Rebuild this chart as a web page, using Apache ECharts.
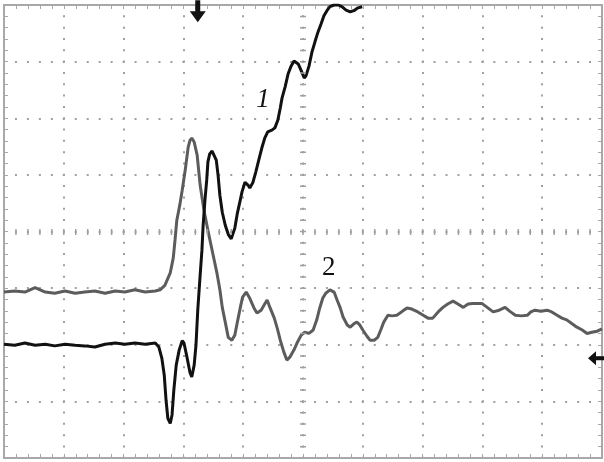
<!DOCTYPE html>
<html>
<head>
<meta charset="utf-8">
<style>
  html, body { margin: 0; padding: 0; background: #fff; }
  #main { width: 604px; height: 462px; }
</style>
<script src="https://cdn.jsdelivr.net/npm/echarts@6/dist/echarts.min.js"></script>
</head>
<body>
<div id="main"></div>
<script>
// screen is 10 x 8 divisions, values below are in divisions
var xTicks = [0, 1, 2, 3, 4, 5, 6, 7, 8, 9, 10];
var yTicks = [-4, -3, -2, -1, 0, 1, 2, 3, 4];

// trace 1 (black)
var trace1 = [
  [0.00,-1.99],[0.18,-2.01],[0.35,-1.97],[0.52,-2.01],[0.69,-1.99],[0.85,-2.02],[1.02,-1.99],[1.19,-2.01],
  [1.35,-2.02],[1.52,-2.04],[1.69,-1.99],[1.86,-1.97],[2.02,-1.99],[2.19,-1.97],[2.36,-1.99],[2.53,-1.97],
  [2.59,-2.04],[2.64,-2.24],[2.68,-2.54],[2.71,-2.98],[2.74,-3.30],[2.78,-3.39],[2.81,-3.24],[2.84,-2.80],
  [2.88,-2.36],[2.93,-2.09],[2.98,-1.93],[3.01,-1.97],[3.06,-2.22],[3.11,-2.49],[3.14,-2.57],[3.18,-2.36],
  [3.21,-2.01],[3.24,-1.39],[3.28,-0.77],[3.31,-0.33],[3.33,0.11],[3.36,0.55],[3.39,0.91],[3.41,1.23],
  [3.44,1.37],[3.48,1.42],[3.51,1.40],[3.55,1.26],[3.58,0.99],[3.61,0.64],[3.65,0.34],[3.70,0.11],
  [3.75,-0.05],[3.80,-0.13],[3.83,-0.12],[3.86,0.06],[3.90,0.31],[3.95,0.55],[3.98,0.70],[4.03,0.87],
  [4.08,0.82],[4.11,0.77],[4.16,0.86],[4.21,1.05],[4.26,1.26],[4.31,1.47],[4.36,1.65],[4.41,1.76],
  [4.48,1.79],[4.53,1.83],[4.58,1.97],[4.62,2.18],[4.65,2.36],[4.70,2.55],[4.75,2.78],[4.80,2.92],
  [4.85,3.01],[4.88,3.03],[4.92,2.96],[4.97,2.84],[5.02,2.71],[5.05,2.75],[5.10,2.92],[5.15,3.17],
  [5.20,3.35],[5.25,3.52],[5.30,3.66],[5.35,3.81],[5.40,3.90],[5.45,3.97],[5.52,4.00],[5.59,4.00],
  [5.65,3.97],[5.72,3.91],[5.79,3.88],[5.85,3.90],[5.92,3.95],[5.99,3.97]
];

// trace 2 (grey)
var trace2 = [
  [0.00,-1.07],[0.18,-1.05],[0.35,-1.07],[0.52,-0.99],[0.69,-1.07],[0.85,-1.09],[1.02,-1.05],[1.19,-1.09],
  [1.35,-1.07],[1.52,-1.05],[1.69,-1.09],[1.86,-1.05],[2.02,-1.07],[2.19,-1.03],[2.36,-1.07],[2.53,-1.05],
  [2.61,-1.03],[2.69,-0.95],[2.78,-0.73],[2.83,-0.47],[2.86,-0.15],[2.89,0.20],[2.94,0.47],[2.98,0.73],
  [3.03,1.08],[3.08,1.49],[3.11,1.61],[3.14,1.65],[3.18,1.58],[3.23,1.35],[3.28,0.82],[3.33,0.47],
  [3.36,0.29],[3.41,0.02],[3.48,-0.33],[3.56,-0.73],[3.61,-1.03],[3.65,-1.34],[3.70,-1.60],[3.75,-1.87],
  [3.81,-1.92],[3.86,-1.83],[3.91,-1.56],[3.96,-1.30],[3.99,-1.16],[4.05,-1.07],[4.11,-1.18],[4.18,-1.35],
  [4.23,-1.44],[4.30,-1.39],[4.35,-1.30],[4.40,-1.21],[4.45,-1.35],[4.52,-1.53],[4.57,-1.71],[4.62,-1.92],
  [4.68,-2.13],[4.73,-2.27],[4.78,-2.22],[4.85,-2.09],[4.90,-1.97],[4.97,-1.83],[5.03,-1.78],[5.10,-1.80],
  [5.17,-1.74],[5.23,-1.56],[5.28,-1.35],[5.33,-1.18],[5.38,-1.09],[5.45,-1.03],[5.52,-1.07],[5.57,-1.21],
  [5.62,-1.34],[5.67,-1.51],[5.74,-1.65],[5.79,-1.69],[5.85,-1.63],[5.90,-1.60],[5.95,-1.65],[6.00,-1.74],
  [6.07,-1.85],[6.12,-1.92],[6.19,-1.92],[6.25,-1.87],[6.30,-1.74],[6.35,-1.60],[6.42,-1.48],[6.49,-1.49],
  [6.57,-1.48],[6.66,-1.41],[6.74,-1.35],[6.82,-1.37],[6.92,-1.42],[7.01,-1.48],[7.09,-1.53],[7.17,-1.53],
  [7.26,-1.42],[7.34,-1.34],[7.42,-1.28],[7.51,-1.23],[7.59,-1.28],[7.68,-1.34],[7.76,-1.28],[7.84,-1.27],
  [7.93,-1.27],[7.99,-1.27],[8.08,-1.34],[8.18,-1.42],[8.28,-1.39],[8.38,-1.34],[8.46,-1.41],[8.55,-1.48],
  [8.65,-1.49],[8.75,-1.48],[8.81,-1.42],[8.88,-1.39],[8.98,-1.41],[9.08,-1.39],[9.16,-1.42],[9.25,-1.48],
  [9.33,-1.53],[9.41,-1.56],[9.50,-1.63],[9.58,-1.69],[9.67,-1.74],[9.75,-1.80],[9.83,-1.78],[9.92,-1.76],
  [10.00,-1.72]
];

var frameColor = '#a8a8a8';
var dotColor = '#a0a0a0';

function frameAxis(pos, isX) {
  return {
    type: 'value',
    position: pos,
    min: isX ? xTicks[0] : yTicks[0],
    max: isX ? xTicks[xTicks.length - 1] : yTicks[yTicks.length - 1],
    interval: 1,
    axisLine: { show: true, onZero: false, lineStyle: { color: frameColor, width: 2 } },
    axisTick: { show: true, inside: true, length: 4, lineStyle: { color: frameColor } },
    minorTick: { show: true, splitNumber: 5, length: 4, lineStyle: { color: frameColor } },
    axisLabel: { show: false },
    splitLine: { show: false }
  };
}

var xBottom = frameAxis('bottom', true);
xBottom.splitLine = { show: true, lineStyle: { color: dotColor, width: 2, type: [2, 9.32], dashOffset: 1 } };
var yLeft = frameAxis('left', false);
yLeft.splitLine = { show: true, lineStyle: { color: dotColor, width: 2, type: [2, 9.96], dashOffset: 1 } };

var myChart = echarts.init(document.getElementById('main'));
myChart.setOption({
  animation: false,
  backgroundColor: '#fff',
  grid: { left: 4, right: 2, top: 5, bottom: 4 },
  xAxis: [xBottom, frameAxis('top', true)],
  yAxis: [yLeft, frameAxis('right', false)],
  series: [{
    name: '2',
    type: 'line',
    data: trace2,
    showSymbol: false,
    lineStyle: { color: '#5c5c5c', width: 3 },
    markLine: {
      silent: true,
      symbol: ['none', 'none'],
      label: { show: false },
      data: [
        { yAxis: 0, lineStyle: { color: dotColor, width: 6, type: [1.5, 10.46], dashOffset: 0.75 } },
        { xAxis: 5, lineStyle: { color: dotColor, width: 6, type: [1.5, 9.82], dashOffset: 0.75 } }
      ]
    },
    markPoint: {
      silent: true,
      data: [
        { coord: [9.9, -2.24], symbol: 'path://M0,7 L8,0 L8,5 L16,5 L16,9 L8,9 L8,14 Z', symbolSize: [16, 14],
          itemStyle: { color: '#111' }, label: { show: false } },
        { coord: [5.43, -0.65], symbol: 'circle', symbolSize: 0,
          label: { show: true, formatter: '2', color: '#111', fontFamily: 'Liberation Serif', fontSize: 27 } }
      ]
    }
  }, {
    name: '1',
    type: 'line',
    data: trace1,
    showSymbol: false,
    lineStyle: { color: '#111', width: 3 },
    markPoint: {
      silent: true,
      data: [
        { coord: [3.24, 3.89], symbol: 'path://M5.5,0 L10.5,0 L10.5,11 L16,11 L8,22 L0,11 L5.5,11 Z', symbolSize: [16, 22],
          itemStyle: { color: '#111' }, label: { show: false } },
        { coord: [4.33, 2.32], symbol: 'circle', symbolSize: 0,
          label: { show: true, formatter: '1', color: '#111', fontFamily: 'Liberation Serif', fontStyle: 'italic', fontSize: 27 } }
      ]
    }
  }]
});
</script>
</body>
</html>
